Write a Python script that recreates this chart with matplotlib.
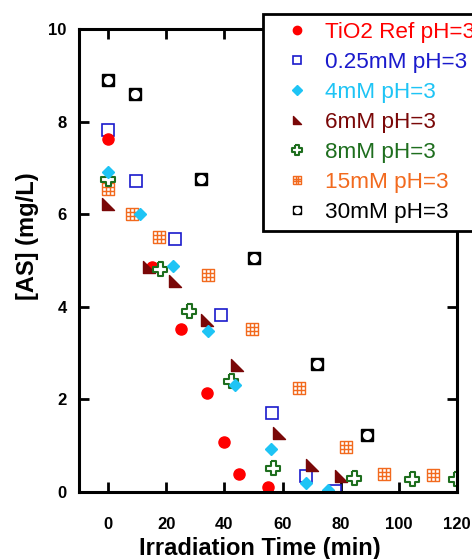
import matplotlib
matplotlib.use("Agg")
import matplotlib.pyplot as plt
from matplotlib.path import Path

plt.rcParams['font.family'] = ['Liberation Sans', 'DejaVu Sans']

# irradiation time (min) and [AS] (mg/L) for each series
ref_t = [0, 15, 25, 34, 40, 45, 55]
ref_c = [7.62, 4.86, 3.52, 2.14, 1.08, 0.38, 0.10]

m025_t = [0, 9.6, 23, 39, 56.3, 68, 78]
m025_c = [7.82, 6.71, 5.47, 3.82, 1.70, 0.35, 0.02]

m4_t = [0, 11, 22.3, 34.2, 43.5, 56, 68, 75.8]
m4_c = [6.92, 6.00, 4.89, 3.47, 2.32, 0.92, 0.20, 0.04]

m6_t = [0, 14, 23, 34, 44.3, 58.7, 70.3, 80]
m6_c = [6.22, 4.87, 4.55, 3.71, 2.74, 1.28, 0.58, 0.35]

m8_t = [0, 18, 28, 42.4, 56.8, 84.7, 104.6, 119.8]
m8_c = [6.75, 4.81, 3.91, 2.39, 0.51, 0.30, 0.28, 0.27]

m15_t = [0, 8.3, 17.6, 34.2, 49.4, 65.8, 81.8, 94.9, 111.8]
m15_c = [6.55, 6.00, 5.50, 4.68, 3.51, 2.25, 0.97, 0.38, 0.36]

m30_t = [0, 9.2, 32.1, 50.1, 71.9, 89]
m30_c = [8.91, 8.59, 6.76, 5.05, 2.76, 1.22]

labels = ["TiO2 Ref pH=3", "0.25mM pH=3", "4mM pH=3", "6mM pH=3",
          "8mM pH=3", "15mM pH=3", "30mM pH=3"]
colors = ["#ff0000", "#1a1acc", "#1ec4f5", "#7a0808", "#1e6e1e", "#f26a1e", "#000000"]

# custom markers
tri = Path([(-1, 1), (-1, -1), (1, -1), (-1, 1)],
           [Path.MOVETO, Path.LINETO, Path.LINETO, Path.CLOSEPOLY])
a = 0.36
cross = Path([(-a, 1), (a, 1), (a, a), (1, a), (1, -a), (a, -a), (a, -1), (-a, -1),
              (-a, -a), (-1, -a), (-1, a), (-a, a), (-a, 1)])
g = 1 / 3
grid_v = [(-1, -1), (1, -1), (1, 1), (-1, 1), (-1, -1),
          (-g, -1), (-g, 1), (g, -1), (g, 1), (-1, -g), (1, -g), (-1, g), (1, g)]
grid_c = [Path.MOVETO, Path.LINETO, Path.LINETO, Path.LINETO, Path.LINETO,
          Path.MOVETO, Path.LINETO, Path.MOVETO, Path.LINETO,
          Path.MOVETO, Path.LINETO, Path.MOVETO, Path.LINETO]
grid = Path(grid_v, grid_c)

fig = plt.figure(figsize=(4.72, 5.59), dpi=100)
ax = fig.add_axes([0.1674, 0.12, 0.8008, 0.828])

h_m025, = ax.plot(m025_t, m025_c, ls='none', marker='s', ms=8, mfc='white',
                  mec=colors[1], mew=1.2)
h_ref, = ax.plot(ref_t, ref_c, ls='none', marker='o', ms=8, color=colors[0])
h_m6, = ax.plot(m6_t, m6_c, ls='none', marker=tri, ms=8, color=colors[3])
h_m15, = ax.plot(m15_t, m15_c, ls='none', marker=grid, ms=8, mfc='none',
                 mec=colors[5], mew=1.0)
h_m8, = ax.plot(m8_t, m8_c, ls='none', marker=cross, ms=10, mfc='white',
                mec=colors[4], mew=1.5)
h_m4, = ax.plot(m4_t, m4_c, ls='none', marker='D', ms=6.5, color=colors[2])
h_m30a, = ax.plot(m30_t, m30_c, ls='none', marker='s', ms=8.5, color='black')
h_m30b, = ax.plot(m30_t, m30_c, ls='none', marker='o', ms=5.5, color='white')

ax.set_xlim(-10, 120)
ax.set_ylim(0, 10)
ax.set_xticks([0, 20, 40, 60, 80, 100, 120])
ax.set_yticks([0, 2, 4, 6, 8, 10])
ax.tick_params(direction='in', length=7, width=2, top=True, right=True,
               labelsize=12)
ax.tick_params(axis='x', pad=18)
ax.tick_params(axis='y', pad=9)
for lab in ax.get_xticklabels() + ax.get_yticklabels():
    lab.set_fontweight('bold')
for sp in ax.spines.values():
    sp.set_linewidth(2.2)

ax.set_xlabel("Irradiation Time (min)", fontsize=17, fontweight='bold')
ax.set_ylabel("[AS] (mg/L)", fontsize=17, fontweight='bold')
ax.xaxis.set_label_coords(0.479, -0.097)
ax.yaxis.set_label_coords(-0.105, 0.553)

handles = [h_ref, h_m025, h_m4, h_m6, h_m8, h_m15, (h_m30a, h_m30b)]
leg = fig.legend(handles, labels, loc='upper left',
                 bbox_to_anchor=(263 / 472, 1 - 14 / 559),
                 bbox_transform=fig.transFigure, borderaxespad=0,
                 fontsize=16.2, markerscale=0.75, handlelength=2.3,
                 handletextpad=0.1, labelspacing=0.4, borderpad=0.36,
                 fancybox=False, framealpha=1, edgecolor='black')
leg.get_frame().set_linewidth(2)
for txt, c in zip(leg.get_texts(), colors):
    txt.set_color(c)

fig.savefig("out.png", dpi=100)
